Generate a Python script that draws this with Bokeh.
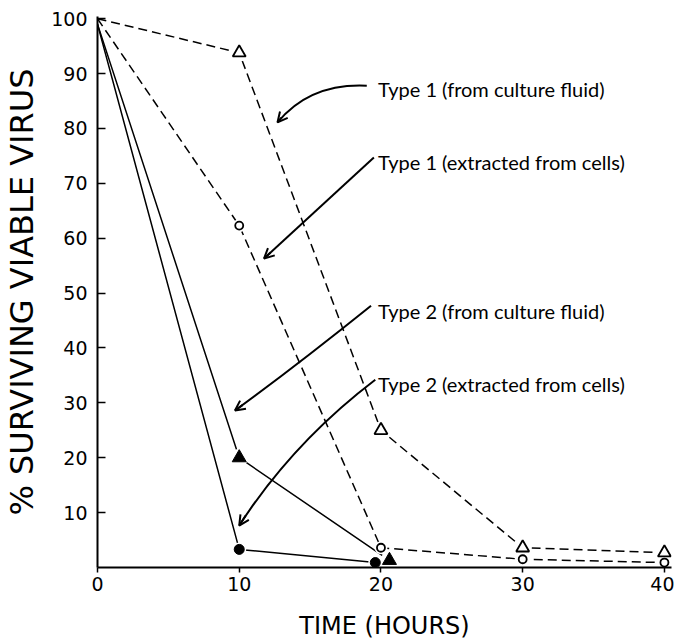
from bokeh.plotting import figure
from bokeh.models import Range1d, FixedTicker, Arrow, OpenHead
from bokeh.core.properties import value
from bokeh.embed import file_html
from bokeh.resources import INLINE

# ---- data ----
hours = [0, 10, 20, 30, 40]
type1_fluid = [100, 93.8, 25.0, 3.6, 2.7]
type1_cells = [100, 62.3, 3.6, 1.5, 0.9]
type2_fluid_hours = [0, 10, 20.6]
type2_fluid = [99, 20.0, 1.3]
type2_cells_hours = [0, 10, 19.6]
type2_cells = [99, 3.3, 0.9]

x_ticks = [0, 10, 20, 30, 40]
y_ticks = [10, 20, 30, 40, 50, 60, 70, 80, 90, 100]

labels = ["Type 1 (from culture fluid)", "Type 1 (extracted from cells)",
          "Type 2 (from culture fluid)", "Type 2 (extracted from cells)"]
label_x = [19.8, 19.8, 19.8, 19.8]
label_y = [87.1, 73.8, 46.8, 33.5]

# arrows: start, control, tip
arrow_x0 = [19.0, 19.5, 19.3, 19.6]
arrow_y0 = [87.8, 74.7, 47.7, 34.2]
arrow_cx = [15.0, 15.6, 14.1, 13.8]
arrow_cy = [88.3, 65.5, 36.9, 22.8]
arrow_x1 = [12.7, 11.75, 9.7, 10.0]
arrow_y1 = [81.1, 56.3, 28.6, 7.65]

FONT = "DejaVu Sans"
ANN_FONT = "Lato"

p = figure(width=674, height=642,
           x_range=Range1d(0, 40.5), y_range=Range1d(0, 100.4),
           output_backend="svg", toolbar_location=None,
           min_border_left=85, min_border_right=3,
           min_border_top=16, min_border_bottom=75)
p.outline_line_color = None
p.grid.visible = False
p.background_fill_color = "white"
p.border_fill_color = "white"

for ax in (p.xaxis, p.yaxis):
    ax.axis_line_width = 2
    ax.axis_line_color = "black"
    ax.major_tick_line_color = "black"
    ax.major_tick_line_width = 1.5
    ax.minor_tick_line_color = None
    ax.major_label_text_font = FONT
    ax.major_label_text_font_size = "19px"
    ax.major_label_text_color = "black"
    ax.axis_label_text_font = FONT
    ax.axis_label_text_font_style = "normal"
    ax.axis_label_text_color = "black"

p.xaxis.ticker = FixedTicker(ticks=x_ticks)
p.yaxis.ticker = FixedTicker(ticks=y_ticks)
p.xaxis.major_tick_in = 0
p.xaxis.major_tick_out = 5
p.xaxis.major_label_standoff = 4
p.yaxis.major_tick_in = 8
p.yaxis.major_tick_out = 0
p.yaxis.major_label_standoff = 10
p.xaxis.axis_label = "TIME (HOURS)"
p.xaxis.axis_label_text_font_size = "24px"
p.xaxis.axis_label_standoff = 18
p.yaxis.axis_label = "% SURVIVING VIABLE VIRUS"
p.yaxis.axis_label_text_font_size = "32px"
p.yaxis.axis_label_standoff = 7

# lines
p.line(hours, type1_fluid, line_color="black", line_width=1.5, line_dash="9 5")
p.line(hours, type1_cells, line_color="black", line_width=1.5, line_dash="9 5")
p.line(type2_fluid_hours, type2_fluid, line_color="black", line_width=1.5)
p.line(type2_cells_hours, type2_cells, line_color="black", line_width=1.5)

# white halos to leave small gaps around the markers
p.scatter(hours[1:], type1_fluid[1:], marker="circle", size=18, fill_color="white", line_color=None)
p.scatter(hours[1:], type1_cells[1:], marker="circle", size=13, fill_color="white", line_color=None)
p.scatter(type2_fluid_hours[1:], type2_fluid[1:], marker="circle", size=18, fill_color="white", line_color=None)
p.scatter(type2_cells_hours[1:], type2_cells[1:], marker="circle", size=14, fill_color="white", line_color=None)

# markers
p.scatter(hours[1:], type1_fluid[1:], marker="triangle", size=13, fill_color="white",
          line_color="black", line_width=1.8)
p.scatter(hours[1:], type1_cells[1:], marker="circle", size=8, fill_color="white",
          line_color="black", line_width=1.8)
p.scatter(type2_fluid_hours[1:], type2_fluid[1:], marker="triangle", size=14, fill_color="black",
          line_color="black")
p.scatter(type2_cells_hours[1:], type2_cells[1:], marker="circle", size=10, fill_color="black",
          line_color="black")

# annotation arrows
p.quadratic(x0=arrow_x0, y0=arrow_y0, x1=arrow_x1, y1=arrow_y1, cx=arrow_cx, cy=arrow_cy,
            line_color="black", line_width=2)
for x0, y0, cx, cy, x1, y1 in zip(arrow_x0, arrow_y0, arrow_cx, arrow_cy, arrow_x1, arrow_y1):
    sx = x1 - 0.12 * (x1 - cx)
    sy = y1 - 0.12 * (y1 - cy)
    p.add_layout(Arrow(end=OpenHead(size=10, line_width=2, line_color="black"),
                       x_start=sx, y_start=sy, x_end=x1, y_end=y1,
                       line_width=2, line_color="black"))

p.text(x=label_x, y=label_y, text=labels, text_font=value(ANN_FONT), text_font_size="20px",
       text_baseline="alphabetic", text_align="left", text_color="black")

open("out.html", "w").write(file_html(p, INLINE))
